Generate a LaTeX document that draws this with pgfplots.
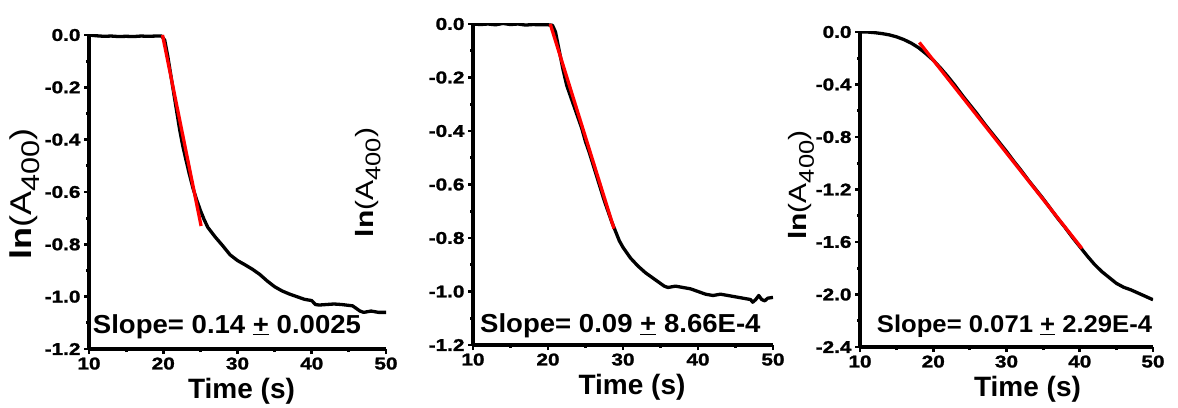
\documentclass[border=0pt]{standalone}
\usepackage{fontspec}
\setmainfont{Liberation Sans}
\newfontfamily\tickfont[FakeStretch=1.22,FakeBold=1.5]{Liberation Sans Bold}
\newfontfamily\slopefont[FakeStretch=1.06]{Liberation Sans}
\newfontfamily\labfont[FakeStretch=1.2]{Liberation Sans}
\usepackage{pgfplots}
\pgfplotsset{compat=1.18}
\pgfplotsset{
  myax/.style={
    scale only axis,
    anchor=south west,
    axis lines=left,
    axis line style={-, line width=3.5pt},
    tick align=outside,
    major tick length=5pt,
    minor tick length=3pt,
    every tick/.style={black, line width=2.8pt},
    minor x tick num=1,
    minor y tick num=1,
    xmin=10, xmax=50,
    xtick={10,20,30,40,50},
    ticklabel style={font=\tickfont\fontsize{17}{17}\selectfont},
    /pgf/number format/assume math mode=true,
    yticklabel style={/pgf/number format/.cd, fixed, fixed zerofill, precision=1},
    xlabel={\bfseries\fontsize{28}{28}\selectfont Time (s)},
    xlabel style={at={(axis description cs:0.5,0)}, anchor=base, yshift=-49pt},
    ylabel style={anchor=center},
  },
  blk/.style={black, line width=3.3pt, line join=round},
  redl/.style={red, line width=3.3pt},
}
\newcommand{\lnA}[1]{{\labfont\fontsize{#1}{#1}\selectfont\bfseries ln\mdseries(A\raisebox{-0.28em}{\fontsize{0.85\dimexpr#1pt\relax}{1}\selectfont 400})}}
\begin{document}
\begin{tikzpicture}
\path[use as bounding box] (0,0) rectangle (1178pt,407pt);

% Panel 1
\begin{axis}[myax, at={(89pt,58pt)}, width=297pt, height=314pt,
  ymin=-1.2, ymax=0, ytick={-1.2,-1,-0.8,-0.6,-0.4,-0.2,0},
  ylabel={\lnA{30}},
  ylabel style={at={(axis description cs:-0.217,0.495)}},
  xlabel style={xshift=4pt}]
\addplot[blk] coordinates {
(10,0) (11,-0.003) (12,-0.005) (13,-0.004) (14,-0.006) (15,-0.005) (16,-0.006) (17,-0.004) (18,-0.005) (19,-0.004) (19.8,-0.004)
(20.2,-0.02) (20.6,-0.08) (21,-0.15) (21.4,-0.22) (21.8,-0.29) (22.2,-0.36) (22.6,-0.42) (23,-0.47) (23.5,-0.53) (24,-0.585) (24.5,-0.63) (25,-0.67) (25.5,-0.705)
(26,-0.735) (27,-0.772) (28,-0.805) (29,-0.84) (30,-0.862) (31,-0.878) (32,-0.895) (33,-0.915) (34,-0.94) (35,-0.962) (36,-0.978) (37,-0.99)
(38,-1.0) (39,-1.01) (40,-1.015) (40.5,-1.03) (41,-1.032) (42,-1.03) (43,-1.028) (44,-1.03) (45.5,-1.035) (46.5,-1.055) (47,-1.06) (48,-1.055) (49,-1.06) (50,-1.06)
};
\addplot[redl] coordinates {(19.9,0) (25.1,-0.73)};
\node[anchor=base west, inner sep=0pt] at (axis cs:10.5,-1.139) {\slopefont\bfseries\fontsize{26}{26}\selectfont Slope= 0.14 \underline{+} 0.0025};
\end{axis}

% Panel 2
\begin{axis}[myax, at={(473pt,62pt)}, width=300pt, height=321pt,
  ymin=-1.2, ymax=0, ytick={-1.2,-1,-0.8,-0.6,-0.4,-0.2,0},
  ylabel={\lnA{25}},
  ylabel style={at={(axis description cs:-0.35,0.506)}},
  xlabel style={xshift=9pt}]
\addplot[blk] coordinates {
(10,0) (11,-0.002) (12,0) (13,-0.003) (14,0.002) (15,-0.002) (16,0) (17,-0.004) (18,-0.002) (19,-0.003) (20,-0.003) (20.6,-0.005)
(21,-0.03) (21.5,-0.1) (22,-0.17) (22.5,-0.23) (23,-0.27) (23.5,-0.31) (24,-0.35) (24.5,-0.39) (25,-0.44) (25.5,-0.48) (26,-0.525) (26.5,-0.57)
(27,-0.615) (27.5,-0.66) (28,-0.7) (28.5,-0.74) (29,-0.775) (29.5,-0.81) (30,-0.835) (31,-0.875) (32,-0.905) (33,-0.93) (34,-0.95) (35,-0.97)
(35.5,-0.98) (36,-0.985) (37,-0.98) (38,-0.985) (39,-0.99) (40,-1.0) (41,-1.01) (42,-1.015) (43,-1.01) (44,-1.015) (45,-1.02) (46,-1.025)
(47,-1.03) (47.3,-1.04) (47.7,-1.03) (48.1,-1.015) (48.5,-1.03) (48.9,-1.035) (49.3,-1.025) (50,-1.022)
};
\addplot[redl] coordinates {(20.3,0) (28.8,-0.765)};
\node[anchor=base west, inner sep=0pt] at (axis cs:10.93,-1.155) {\slopefont\bfseries\fontsize{26}{26}\selectfont Slope= 0.09 \underline{+} 8.66E-4};
\end{axis}

% Panel 3
\begin{axis}[myax, at={(860pt,60pt)}, width=293pt, height=315pt,
  ymin=-2.4, ymax=0, ytick={-2.4,-2,-1.6,-1.2,-0.8,-0.4,0},
  ylabel={\lnA{25}},
  ylabel style={at={(axis description cs:-0.2,0.514)}},
  xlabel style={xshift=21pt}]
\addplot[blk] coordinates {
(10,0) (11,0) (12,-0.005) (13,-0.012) (14,-0.022) (15,-0.037) (16,-0.058) (17,-0.085) (18,-0.12) (19,-0.165) (20,-0.215)
(21,-0.275) (22,-0.34) (23,-0.41) (24,-0.485) (25,-0.555) (26,-0.625) (27,-0.7) (28,-0.77) (29,-0.84) (30,-0.91) (31,-0.985)
(32,-1.055) (33,-1.13) (34,-1.2) (35,-1.27) (36,-1.345) (37,-1.42) (38,-1.49) (39,-1.565) (40,-1.635) (41,-1.705) (42,-1.77)
(43,-1.825) (44,-1.87) (45,-1.915) (46,-1.945) (47,-1.965) (48,-1.99) (49,-2.015) (50,-2.04)
};
\addplot[redl] coordinates {(18.1,-0.08) (40.3,-1.65)};
\node[anchor=base west, inner sep=0pt] at (axis cs:12.28,-2.293) {\slopefont\bfseries\fontsize{24.2}{24.2}\selectfont Slope= 0.071 \underline{+} 2.29E-4};
\end{axis}
\end{tikzpicture}
\end{document}
